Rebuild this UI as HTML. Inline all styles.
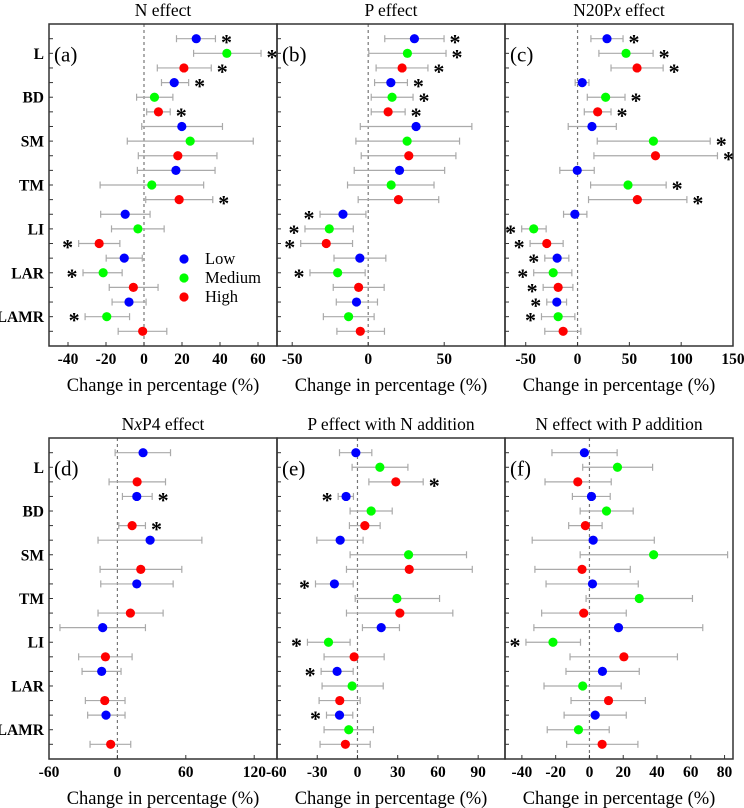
<!DOCTYPE html>
<html><head><meta charset="utf-8"><style>
html,body{margin:0;padding:0;background:#fff;}
svg{display:block;}
svg text{font-family:"Liberation Serif","Times New Roman",serif;}
</style></head><body>
<svg id="chart" width="744" height="808" viewBox="0 0 744 808" xmlns="http://www.w3.org/2000/svg" font-family="Liberation Serif, serif"></svg>
<script>
const rowLabels = ["L","BD","SM","TM","LI","LAR","LAMR"];
const seriesNames = ["Low","Medium","High"];
const seriesColors = ["#0000ff","#00ff00","#ff0000"];

const aMean = [27.5,43.6,21,15.9,5.5,7.6,19.9,24.3,17.8,16.8,4.1,18.5,-9.9,-3.2,-23.6,-10.4,-21.5,-5.6,-7.9,-19.6,-0.7];
const aLow  = [17.1,26.1,7,9.2,-3.9,1.4,-1.2,-8.8,-3,-3.5,-23.1,0.9,-22.8,-17.1,-34.4,-19.9,-32.1,-18.3,-16.8,-31,-13.6];
const aHigh = [37.6,61.6,35.4,23.5,15.2,13.8,41.3,57.5,38.4,37.4,31.4,36.2,3.2,10.6,-12.7,-0.9,-11.5,7.4,1.1,-7.6,12];
const aSig  = [1,1,1,1,0,1,0,0,0,0,0,1,0,0,1,0,1,0,0,1,0];

const bMean = [30.4,25.8,22.3,14.9,15.7,13.1,31.5,25.6,26.7,20.6,15.1,19.9,-16.6,-25.6,-27.6,-5.5,-20.1,-6.3,-7.7,-12.9,-5.2];
const bLow  = [10.9,0.4,5.2,4.2,2,2,-5.2,-8.1,-4.6,-9.2,-13.6,-6.6,-31.7,-41.6,-44.4,-22.5,-38.3,-23,-21,-29.5,-20.6];
const bHigh = [49.9,51.2,39.3,25.8,29.5,24.3,68.2,60.1,57.7,50.3,43.3,46.4,-1.5,-9.8,-10.3,11.6,-2,10.5,6.1,3.9,10.7];
const bSig  = [1,1,1,1,1,1,0,0,0,0,0,0,1,1,1,0,1,0,0,0,0];

const cMean = [28.4,46.8,57.4,4.5,27.1,19.4,13.9,73.2,75.2,-0.3,48.7,57.7,-2.6,-42.3,-29.7,-19.7,-23.5,-18.7,-20,-18.7,-13.9];
const cLow  = [12.9,20.6,32.3,-2.3,9.4,6.5,-9,19,15.8,-17.1,12.6,10.6,-13.5,-53.9,-45.8,-31.6,-42.3,-33.2,-29.7,-34.8,-31.6];
const cHigh = [43.9,72.9,82.6,11,45.8,32.3,37.4,128,135,16.1,85.5,105.5,9,-30.3,-13.9,-8.4,-5.5,-4.5,-10.6,-2.6,3.2];
const cSig  = [1,1,1,0,1,1,0,1,1,0,1,1,0,1,1,1,1,1,1,1,0];

const dMean = [22.5,null,17.3,17,null,12.9,28.7,null,20.5,17,null,11.4,-12.9,null,-10.5,-13.8,null,-11.1,-10,null,-5.9];
const dLow  = [-2,null,-7.3,4.4,null,1.2,-17,null,-15.2,-14.6,null,-17,-50.4,null,-34,-31,null,-28.1,-26.1,null,-24];
const dHigh = [46.6,null,42.2,30.5,null,24.6,74.1,null,56.5,48.9,null,40.1,24.6,null,12.9,3.2,null,6.7,6.7,null,11.7];
const dSig  = [0,0,0,1,0,1,0,0,0,0,0,0,0,0,0,0,0,0,0,0,0];

const eMean = [-1.2,16.7,28.6,-8.5,10.2,5.5,-12.9,38.1,38.6,-17.2,29.4,31.6,17.7,-21.6,-2.5,-15.2,-4,-13.2,-13.4,-6.5,-9];
const eLow  = [-13.4,-4,8.5,-14.4,-5.5,-6,-30.3,-5.5,-8.2,-31.3,-1.7,-8.2,3.7,-37.3,-24.9,-27.1,-26.4,-28.6,-23.1,-24.9,-27.9];
const eHigh = [10.7,37.6,49,-3,25.9,16.9,4.2,81.3,85.6,-3.2,61.2,71.1,31.3,-5.5,19.9,-3.2,19.2,2,-3.5,11.9,9.5];
const eSig  = [0,0,1,1,0,0,0,0,0,1,0,0,0,1,0,1,0,0,1,0,0];

const fMean = [-3,16.6,-6.9,1.2,10.1,-2.4,2.2,38,-4.4,1.8,29.5,-3.4,17.2,-21.6,20.4,7.7,-4,11.3,3.4,-6.5,7.5];
const fLow  = [-22.2,-4,-26.3,-10.1,-5.5,-12.3,-33.9,-5.5,-32.3,-25.7,-2,-28.3,-32.9,-37.6,-11.5,-13.9,-26.9,-10.9,-15,-25,-13.5];
const fHigh = [16.4,37.4,12.9,12.3,25.9,7.5,38.4,81.8,24.2,28.9,61,21.8,67.1,-5.3,52.1,29.5,18.8,33.1,21.8,11.7,28.7];
const fSig  = [0,0,0,0,0,0,0,0,0,0,0,0,0,1,0,0,0,0,0,0,0];

const aTicks = [-40,-20,0,20,40,60];
const bTicks = [-50,0,50];
const cTicks = [-50,0,50,100,150];
const dTicks = [-60,0,60,120];
const eTicks = [-60,-30,0,30,60,90];
const fTicks = [-40,-20,0,20,40,60,80];

const NS = "http://www.w3.org/2000/svg";
const svg = document.getElementById("chart");
const FF = "Liberation Serif, Times New Roman, serif";
function mk(tag, attrs, parent, text){
  const e = document.createElementNS(NS, tag);
  for (const k in attrs) e.setAttribute(k, attrs[k]);
  if (tag === "text") e.setAttribute("font-family", FF);
  if (text !== undefined) e.textContent = text;
  (parent || svg).appendChild(e);
  return e;
}

const panels = [
  {id:"a", title:"N effect", x0:49, y0:24, y1:346, dom:[-50,70], ticks:aTicks, mean:aMean, low:aLow, high:aHigh, sig:aSig, ylabels:true, legend:true},
  {id:"b", title:"P effect", x0:277, y0:24, y1:346, dom:[-60,90], ticks:bTicks, mean:bMean, low:bLow, high:bHigh, sig:bSig},
  {id:"c", title:"N20Px effect", x0:505, y0:24, y1:346, dom:[-70,150], ticks:cTicks, mean:cMean, low:cLow, high:cHigh, sig:cSig},
  {id:"d", title:"NxP4 effect", x0:49, y0:438, y1:759, dom:[-60,140], ticks:dTicks, mean:dMean, low:dLow, high:dHigh, sig:dSig, ylabels:true},
  {id:"e", title:"P effect with N addition", x0:277, y0:438, y1:759, dom:[-60,110], ticks:eTicks, mean:eMean, low:eLow, high:eHigh, sig:eSig},
  {id:"f", title:"N effect with P addition", x0:505, y0:438, y1:759, dom:[-50,85], ticks:fTicks, mean:fMean, low:fLow, high:fHigh, sig:fSig}
];
const PW = 228;

panels.forEach(p => {
  const g = mk("g", {});
  
  
  const sx = v => p.x0 + (v - p.dom[0]) / (p.dom[1] - p.dom[0]) * PW;
  const rowTop = p.y0 + 14.7, rowStep = (p.y1 - p.y0 - 29.4) / 20;
  const sy = i => rowTop + i * rowStep;

  const cx = p.x0 + PW / 2;
  const t = mk("text", {x:cx, y:p.y0 - 8, "text-anchor":"middle", "font-size":"17.5"}, g);
  if (p.id === "c") { t.textContent = "N20P"; mk("tspan",{"font-style":"italic"},t,"x"); mk("tspan",{},t," effect"); }
  else if (p.id === "d") { t.textContent = "N"; mk("tspan",{"font-style":"italic"},t,"x"); mk("tspan",{},t,"P4 effect"); }
  else t.textContent = p.title;
  
  

  const zl = mk("line", {x1:sx(0), x2:sx(0), y1:p.y0, y2:p.y1, stroke:"#777", "stroke-width":1.2, "stroke-dasharray":"3,3"}, g);
  
  

  for (let i = 0; i < 21; i++) {
    const tk = mk("line", {x1:p.x0, x2:p.x0 + 4, y1:sy(i), y2:sy(i), stroke:"#333", "stroke-width":1}, g);
    
    
  }
  if (p.ylabels) {
    rowLabels.forEach((lab, k) => {
      const yl = mk("text", {x:p.x0 - 5, y:sy(k*3+1) + 5.5, "text-anchor":"end", "font-size":"15.5", "font-weight":"bold"}, g, lab);
      
      
    });
  }
  p.ticks.forEach((v) => {
    const xt = mk("line", {x1:sx(v), x2:sx(v), y1:p.y1, y2:p.y1 - 4, stroke:"#333", "stroke-width":1}, g);
    
    
    let anchor = "middle", xx = sx(v);
    if (p.id === "d" && v === 120) { anchor = "end"; xx = 266; }
    if (p.id === "e" && v === -60) { anchor = "start"; xx = 266; }
    const xl = mk("text", {x:xx, y:p.y1 + 18, "text-anchor":anchor, "font-size":"15.5", "font-weight":"bold"}, g, String(v));
    
    
  });
  const xt = mk("text", {x:cx, y:p.y1 + 45, "text-anchor":"middle", "font-size":"18.5"}, g, "Change in percentage (%)");
  
  

  const pl = mk("text", {x:p.x0 + 5, y:sy(1) + 8, "font-size":"21"}, g, "(" + p.id + ")");
  
  

  for (let i = 0; i < 21; i++) {
    if (p.mean[i] === null) continue;
    const y = sy(i);
    const eb = mk("g", {stroke:"#aaa", "stroke-width":1.2}, g);
    
    
    mk("line", {x1:sx(p.low[i]), x2:sx(p.high[i]), y1:y, y2:y}, eb);
    mk("line", {x1:sx(p.low[i]), x2:sx(p.low[i]), y1:y-3.5, y2:y+3.5}, eb);
    mk("line", {x1:sx(p.high[i]), x2:sx(p.high[i]), y1:y-3.5, y2:y+3.5}, eb);
    const c = mk("circle", {cx:sx(p.mean[i]), cy:y, r:4.6, fill:seriesColors[i%3]}, g);
    
    
    if (p.sig[i]) {
      const pos = p.mean[i] > 0;
      const st = mk("text", {x: pos ? sx(p.high[i]) + 11 : sx(p.low[i]) - 11, y:y + 11, "text-anchor":"middle", "font-size":"22", "font-weight":"bold"}, g, "*");
      
      
    }
  }
  const fr = mk("rect", {x:p.x0, y:p.y0, width:PW, height:p.y1 - p.y0, fill:"none", stroke:"#333", "stroke-width":1.5}, g);
  
  

  if (p.legend) {
    const lg = mk("g", {}, g);
    
    
    seriesNames.forEach((n, k) => {
      const ly = 259 + k * 19;
      const e = mk("g", {}, lg);
      
      
      mk("circle", {cx:184, cy:ly, r:4.6, fill:seriesColors[k]}, e);
      mk("text", {x:205, y:ly + 5, "font-size":"16.5"}, e, n);
    });
  }
});
</script>
</body></html>
